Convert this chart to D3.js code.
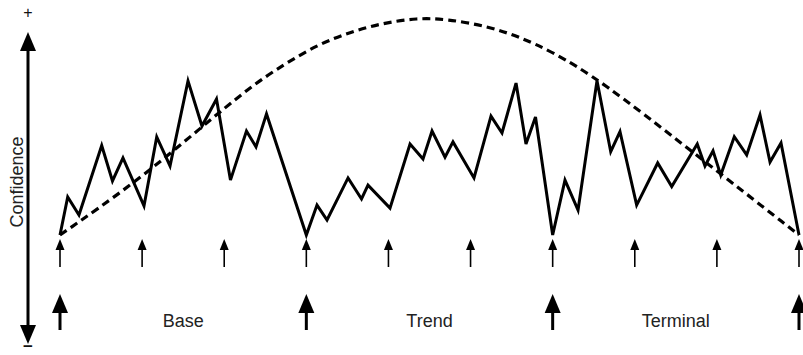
<!DOCTYPE html>
<html>
<head>
<meta charset="utf-8">
<script src="https://cdn.jsdelivr.net/npm/d3@7"></script>
<style>
  html, body { margin: 0; padding: 0; background: #fff; }
  svg { display: block; font-family: "Liberation Sans", Arial, Helvetica, sans-serif; }
</style>
</head>
<body>
<svg id="chart" width="803" height="355"></svg>
<script>
// ---- data (time in sampling intervals 0..9, confidence 0..100) ----
const confidenceX = [0, 0.094, 0.231, 0.508, 0.639, 0.767, 1.023, 1.178, 1.340, 1.559, 1.729, 1.906, 2.076, 2.271, 2.387, 2.515,
  3, 3.130, 3.252, 3.508, 3.672, 3.751, 4.019, 4.263, 4.421, 4.531, 4.689, 4.786, 5.042, 5.249, 5.383, 5.554, 5.675, 5.791,
  6, 6.150, 6.309, 6.540, 6.707, 6.820, 7.023, 7.279, 7.450, 7.761, 7.855, 7.953, 8.047, 8.212, 8.363, 8.525, 8.647, 8.781, 9];
const confidenceY = [0, 17.5, 9.2, 41.2, 24.9, 35.5, 13.4, 45.2, 31.8, 71.0, 50.2, 62.7, 25.3, 47.9, 40.6, 55.8,
  0, 13.8, 6.9, 26.3, 16.6, 23.0, 12.4, 41.9, 35.0, 47.9, 35.9, 42.9, 26.3, 54.8, 47.0, 70.0, 41.9, 54.4,
  0, 25.3, 11.5, 71.1, 38.4, 47.6, 13.8, 33.2, 22.3, 41.9, 31.8, 38.8, 27.6, 45.3, 36.9, 55.3, 33.6, 42.4, 0];

const envelopeX = [0, 0.913, 1.729, 2.314, 2.716, 3.130, 3.532, 3.934, 4.348, 4.713, 5.200, 5.602, 6.004, 6.577, 7.673, 9];
const envelopeY = [0, 24.0, 49.8, 68.2, 78.3, 87.6, 93.5, 97.7, 100, 99.5, 96.3, 91.2, 84.3, 71.4, 39.2, 0];

const sampleTicks = [0, 1, 2, 3, 4, 5, 6, 7, 8, 9];
const phaseTicks = [0, 3, 6, 9];
const phaseLabels = ["Base", "Trend", "Terminal"];
const axisLabel = "Confidence";
const axisTop = "+";
const axisBottom = "\u2212";

// ---- scales ----
const x = d3.scaleLinear().domain([0, 9]).range([60, 799]);
const y = d3.scaleLinear().domain([0, 100]).range([235, 18]);

const svg = d3.select("#chart");

// ---- envelope (dashed) ----
const envelope = envelopeX.map((v, i) => [v, envelopeY[i]]);
svg.append("path")
  .datum(envelope)
  .attr("fill", "none")
  .attr("stroke", "#000")
  .attr("stroke-width", 3.2)
  .attr("stroke-dasharray", "8,5")
  .attr("d", d3.line().x(d => x(d[0])).y(d => y(d[1])).curve(d3.curveBasis));

// ---- confidence line ----
const conf = confidenceX.map((v, i) => [v, confidenceY[i]]);
svg.append("path")
  .datum(conf)
  .attr("fill", "none")
  .attr("stroke", "#000")
  .attr("stroke-width", 3)
  .attr("stroke-linejoin", "miter")
  .attr("stroke-miterlimit", 4)
  .attr("d", d3.line().x(d => x(d[0])).y(d => y(d[1])));

// ---- arrow helper ----
function arrowUp(g, cx, tip, bottom, headW, headH, sw) {
  g.append("line").attr("x1", cx).attr("x2", cx).attr("y1", tip + headH - 1).attr("y2", bottom)
    .attr("stroke", "#000").attr("stroke-width", sw);
  g.append("path").attr("d", `M${cx},${tip}L${cx - headW / 2},${tip + headH}L${cx + headW / 2},${tip + headH}Z`)
    .attr("fill", "#000");
}

// small sampling arrows
const smallG = svg.append("g");
sampleTicks.forEach(t => arrowUp(smallG, x(t), 239, 267, 9, 11, 1.6));

// big phase arrows
const bigG = svg.append("g");
phaseTicks.forEach(t => arrowUp(bigG, x(t), 294, 330, 16, 19, 3));

// phase labels
svg.append("g").selectAll("text").data(phaseLabels).join("text")
  .attr("x", (d, i) => (x(phaseTicks[i]) + x(phaseTicks[i + 1])) / 2)
  .attr("y", 327)
  .attr("text-anchor", "middle")
  .attr("font-size", 18)
  .attr("fill", "#222")
  .text(d => d);

// ---- vertical confidence axis ----
const ax = 28;
svg.append("line").attr("x1", ax).attr("x2", ax).attr("y1", 45).attr("y2", 330)
  .attr("stroke", "#000").attr("stroke-width", 3);
svg.append("path").attr("d", `M${ax},32L${ax - 8},51L${ax + 8},51Z`).attr("fill", "#000");
svg.append("path").attr("d", `M${ax},344L${ax - 8},325L${ax + 8},325Z`).attr("fill", "#000");

svg.append("text").attr("x", ax).attr("y", 18).attr("text-anchor", "middle")
  .attr("font-size", 16).attr("fill", "#111").text(axisTop);
svg.append("text").attr("x", ax).attr("y", 352).attr("text-anchor", "middle")
  .attr("font-size", 17).attr("font-weight", "bold").attr("fill", "#111").text(axisBottom);

svg.append("text")
  .attr("transform", `translate(23,182) rotate(-90)`)
  .attr("text-anchor", "middle")
  .attr("font-size", 18)
  .attr("fill", "#222")
  .text(axisLabel);
</script>
</body>
</html>
